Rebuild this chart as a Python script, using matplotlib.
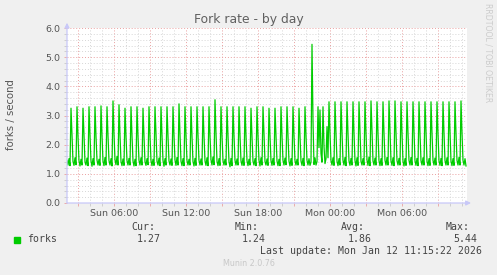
import numpy as np
import pandas as pd
import matplotlib
matplotlib.use("Agg")
import matplotlib.pyplot as plt
import matplotlib.dates as mdates
from matplotlib.ticker import MultipleLocator, FuncFormatter
from matplotlib.patches import Rectangle

# 5-minute samples, one row per 30 minutes
forks = [
    1.46, 1.30, 1.52, 1.28, 3.25, 2.30,
    1.42, 1.29, 1.55, 1.31, 3.30, 2.28,
    1.45, 1.27, 1.50, 1.30, 3.25, 2.32,
    1.40, 1.30, 1.54, 1.28, 3.30, 2.30,
    1.44, 1.26, 1.52, 1.30, 3.30, 2.27,
    1.47, 1.30, 1.50, 1.29, 3.33, 2.31,
    1.43, 1.28, 1.56, 1.30, 3.30, 2.30,
    1.45, 1.30, 1.52, 1.27, 3.50, 2.36,
    1.48, 1.31, 1.60, 1.30, 3.37, 2.32,
    1.42, 1.28, 1.51, 1.29, 3.25, 2.28,
    1.45, 1.30, 1.53, 1.30, 3.30, 2.30,
    1.44, 1.27, 1.50, 1.28, 3.30, 2.29,
    1.46, 1.30, 1.55, 1.30, 3.25, 2.27,
    1.41, 1.29, 1.52, 1.31, 3.30, 2.30,
    1.45, 1.28, 1.50, 1.29, 3.30, 2.31,
    1.43, 1.30, 1.54, 1.28, 3.30, 2.30,
    1.46, 1.26, 1.52, 1.30, 3.30, 2.29,
    1.44, 1.30, 1.51, 1.29, 3.30, 2.30,
    1.47, 1.29, 1.56, 1.30, 3.40, 2.34,
    1.43, 1.28, 1.52, 1.28, 3.30, 2.30,
    1.45, 1.30, 1.50, 1.30, 3.30, 2.28,
    1.42, 1.27, 1.53, 1.29, 3.30, 2.31,
    1.46, 1.30, 1.51, 1.30, 3.30, 2.30,
    1.44, 1.29, 1.55, 1.28, 3.30, 2.29,
    1.48, 1.30, 1.58, 1.31, 3.54, 2.38,
    1.43, 1.28, 1.52, 1.29, 3.30, 2.30,
    1.45, 1.30, 1.50, 1.30, 3.30, 2.30,
    1.42, 1.24, 1.53, 1.28, 3.30, 2.29,
    1.46, 1.30, 1.51, 1.30, 3.30, 2.31,
    1.44, 1.29, 1.54, 1.29, 3.30, 2.30,
    1.45, 1.28, 1.50, 1.30, 3.25, 2.27,
    1.43, 1.30, 1.52, 1.28, 3.30, 2.30,
    1.46, 1.27, 1.55, 1.30, 3.30, 2.31,
    1.42, 1.30, 1.51, 1.29, 3.25, 2.28,
    1.45, 1.29, 1.53, 1.30, 3.25, 2.29,
    1.44, 1.28, 1.50, 1.28, 3.30, 2.30,
    1.46, 1.30, 1.54, 1.31, 3.30, 2.30,
    1.43, 1.27, 1.52, 1.29, 3.30, 2.29,
    1.45, 1.30, 1.50, 1.30, 3.25, 2.28,
    1.44, 1.29, 1.53, 1.28, 3.30, 2.30,
    1.46, 1.30, 1.52, 1.29, 1.40, 5.44,
    2.80, 1.32, 1.55, 1.30, 1.42, 3.30,
    1.90, 3.19, 1.70, 1.40, 3.30, 1.95,
    1.35, 1.52, 2.62, 1.55, 3.47, 2.40,
    1.45, 1.30, 1.55, 1.29, 3.47, 2.38,
    1.43, 1.28, 1.52, 1.30, 3.47, 2.40,
    1.46, 1.30, 1.56, 1.28, 3.47, 2.37,
    1.44, 1.29, 1.53, 1.30, 3.47, 2.39,
    1.45, 1.27, 1.55, 1.29, 3.47, 2.40,
    1.43, 1.30, 1.52, 1.30, 3.47, 2.38,
    1.47, 1.29, 1.57, 1.28, 3.50, 2.41,
    1.44, 1.30, 1.54, 1.30, 3.47, 2.38,
    1.45, 1.28, 1.52, 1.29, 3.47, 2.39,
    1.46, 1.30, 1.56, 1.30, 3.50, 2.41,
    1.44, 1.29, 1.55, 1.28, 3.50, 2.40,
    1.45, 1.30, 1.53, 1.30, 3.47, 2.38,
    1.43, 1.27, 1.52, 1.29, 3.47, 2.39,
    1.46, 1.30, 1.56, 1.30, 3.47, 2.40,
    1.44, 1.29, 1.53, 1.28, 3.47, 2.38,
    1.45, 1.30, 1.55, 1.30, 3.47, 2.39,
    1.43, 1.28, 1.52, 1.29, 3.47, 2.40,
    1.46, 1.30, 1.54, 1.30, 3.47, 2.38,
    1.44, 1.29, 1.53, 1.28, 3.47, 2.39,
    1.45, 1.30, 1.55, 1.30, 3.47, 2.40,
    1.43, 1.28, 1.52, 1.29, 3.47, 2.38,
    1.46, 1.30, 1.56, 1.30, 3.50, 2.40,
    1.46, 1.30, 1.52, 1.27,
]
start = "2026-01-11 02:05"
end = "2026-01-12 11:25"

series_name = "forks"
stat_labels = ["Cur:", "Min:", "Avg:", "Max:"]
stat_values = ["1.27", "1.24", "1.86", "5.44"]
last_update = "Last update: Mon Jan 12 11:15:22 2026"

times = pd.date_range(start, periods=len(forks), freq="5min")

W, H = 497, 275
fig = plt.figure(figsize=(W / 100, H / 100), dpi=100, facecolor="#F0F0F0")
ax = fig.add_axes([67 / W, 72 / H, 400 / W, 175 / H])
ax.set_facecolor("white")

ax.plot(times, forks, color="#00CC00", lw=0.9, zorder=3)

ax.set_xlim(pd.Timestamp(start), pd.Timestamp(end))
ax.set_ylim(0, 6)

ax.xaxis.set_major_locator(mdates.HourLocator(byhour=range(0, 24, 3)))
ax.xaxis.set_minor_locator(mdates.HourLocator())


def xfmt(v, pos):
    d = mdates.num2date(v)
    return d.strftime("%a %H:%M") if d.hour % 6 == 0 else ""


ax.xaxis.set_major_formatter(FuncFormatter(xfmt))
ax.yaxis.set_major_locator(MultipleLocator(1))
ax.yaxis.set_minor_locator(MultipleLocator(0.2))
ax.yaxis.set_major_formatter(FuncFormatter(lambda v, p: f"{v:.1f}"))

ax.grid(which="minor", color="#D6D6D6", linestyle=(0, (1, 2)), lw=0.7)
ax.grid(which="major", color="#EAA0A0", linestyle=(0, (1, 2)), lw=0.7)
ax.set_axisbelow(True)

for s in ax.spines.values():
    s.set_visible(False)

ax.tick_params(which="both", length=2, width=0.6, labelsize=6.8,
               labelcolor="#555555", pad=2.5)
ax.tick_params(which="major", color="#EAA0A0")
ax.tick_params(which="minor", color="#C8C8C8")

# axis lines with arrows
ax.annotate("", xy=(1.01, 0), xytext=(0, 0), xycoords="axes fraction",
            arrowprops=dict(arrowstyle="-|>", color="#C8C8F8", lw=0.9,
                            mutation_scale=7, shrinkA=0, shrinkB=0))
ax.annotate("", xy=(0, 1.03), xytext=(0, 0), xycoords="axes fraction",
            arrowprops=dict(arrowstyle="-|>", color="#C8C8F8", lw=0.9,
                            mutation_scale=7, shrinkA=0, shrinkB=0))

fig.text(248.5 / W, 1 - 19 / H, "Fork rate - by day", ha="center", va="center",
         fontsize=8.9, color="#606060")
fig.text(11 / W, 1 - 115 / H, "forks / second", ha="center", va="center",
         rotation=90, fontsize=7.3, color="#555555")
fig.text(488 / W, 1 - 53 / H, "RRDTOOL / TOBI OETIKER", ha="center", va="center",
         rotation=270, fontsize=5.6, color="#CCCCCC")

mono = "DejaVu Sans Mono"
fig.patches.append(Rectangle((14 / W, 1 - 243 / H), 6 / W, 6 / H,
                             transform=fig.transFigure, color="#00CC00"))
fig.text(27 / W, 1 - 239.5 / H, series_name, ha="left", va="center",
         fontsize=7.1, family=mono, color="#444444")
label_right = [155, 259, 365, 470]
value_right = [161, 266, 372, 477]
for lab, val, lx, vx in zip(stat_labels, stat_values, label_right, value_right):
    fig.text(lx / W, 1 - 227.5 / H, lab, ha="right", va="center",
             fontsize=7.1, family=mono, color="#444444")
    fig.text(vx / W, 1 - 239.5 / H, val, ha="right", va="center",
             fontsize=7.1, family=mono, color="#444444")
fig.text(482 / W, 1 - 251.5 / H, last_update, ha="right", va="center",
         fontsize=7.1, family=mono, color="#444444")
fig.text(248.5 / W, 1 - 264 / H, "Munin 2.0.76", ha="center", va="center",
         fontsize=5.8, color="#C8C8C8")

fig.savefig("out.png", dpi=100, facecolor=fig.get_facecolor())
